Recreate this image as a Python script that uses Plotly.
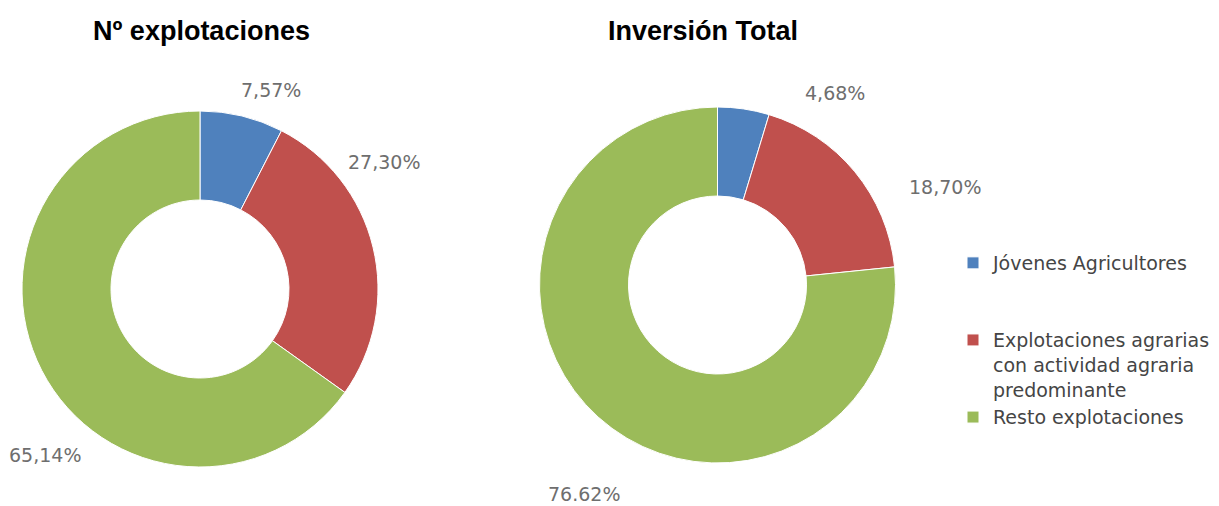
import plotly.graph_objects as go

# ---- data ----
legend_labels = ["Jóvenes Agricultores<br> <br> ",
                 "Explotaciones agrarias<br>con actividad agraria<br>predominante",
                 "Resto explotaciones"]
explotaciones_values = [7.57, 27.30, 65.14]
inversion_values = [4.68, 18.70, 76.62]
explotaciones_text = ["7,57%", "27,30%", "65,14%"]
inversion_text = ["4,68%", "18,70%", "76.62%"]
titles = ["Nº explotaciones", "Inversión Total"]
colors = ["#4F81BD", "#C0504D", "#9BBB59"]

W, H = 1219, 506

def px_x(v):
    return v / W

def px_y(v):
    return 1 - v / H

fig = go.Figure()

fig.add_trace(go.Pie(
    labels=legend_labels, values=explotaciones_values,
    hole=0.5, sort=False, direction="clockwise", rotation=0,
    marker=dict(colors=colors, line=dict(color="white", width=1)),
    textinfo="none", hoverinfo="label+percent",
    domain=dict(x=[px_x(22), px_x(378)], y=[px_y(467), px_y(111)]),
    showlegend=True,
))
fig.add_trace(go.Pie(
    labels=legend_labels, values=inversion_values,
    hole=0.5, sort=False, direction="clockwise", rotation=0,
    marker=dict(colors=colors, line=dict(color="white", width=1)),
    textinfo="none", hoverinfo="label+percent",
    domain=dict(x=[px_x(539), px_x(896)], y=[px_y(463), px_y(107)]),
    showlegend=True,
))

annotations = []
# titles
title_pos = [(201, 31), (703, 31)]
for t, (x, y) in zip(titles, title_pos):
    annotations.append(dict(text="<b>" + t + "</b>", x=px_x(x), y=px_y(y),
                            xref="paper", yref="paper",
                            xanchor="center", yanchor="middle", showarrow=False,
                            font=dict(family="Liberation Sans", size=27, color="#000000")))
# percentage labels
label_pos_left = [(271, 90), (384, 162), (45, 455)]
label_pos_right = [(835, 93), (945, 187), (584, 494)]
for texts, positions in ((explotaciones_text, label_pos_left), (inversion_text, label_pos_right)):
    for t, (x, y) in zip(texts, positions):
        annotations.append(dict(text=t, x=px_x(x), y=px_y(y), xref="paper", yref="paper",
                                xanchor="center", yanchor="middle", showarrow=False,
                                font=dict(family="DejaVu Sans", size=19, color="#6e6e6e")))

fig.update_layout(
    width=W, height=H,
    margin=dict(l=0, r=0, t=0, b=0),
    paper_bgcolor="white", plot_bgcolor="white",
    annotations=annotations,
    legend=dict(
        x=px_x(953), y=px_y(244), xanchor="left", yanchor="top",
        valign="top",
        font=dict(family="DejaVu Sans", size=19, color="#454545"),
        bgcolor="rgba(0,0,0,0)",
    ),
)

fig.write_html("out.html", config={"displayModeBar": False},
               post_script="document.body.style.margin='0';")
